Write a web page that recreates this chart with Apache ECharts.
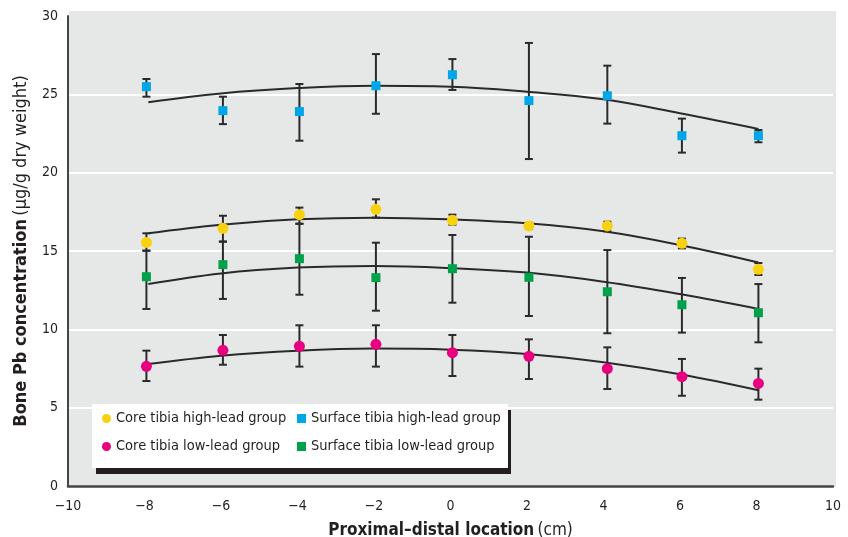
<!DOCTYPE html>
<html>
<head>
<meta charset="utf-8">
<script src="https://cdn.jsdelivr.net/npm/echarts@6/dist/echarts.min.js"></script>
<style>html,body{margin:0;padding:0;background:#fff}#c{width:848px;height:537px}</style>
</head>
<body>
<div id="c"></div>
<script>
var xPos = [-7.95, -5.95, -3.95, -1.95, 0.05, 2.05, 4.1, 6.05, 8.05];
var fitX = [-7.9, -6, -4, -2, 0, 2, 4, 6, 8.05];

var coreHigh   = [15.55, 16.45, 17.32, 17.66, 16.96, 16.6, 16.6, 15.49, 13.83];
var coreHighLo = [15.02, 15.6, 16.74, 17.13, 16.68, 16.4, 16.26, 15.17, 13.47];
var coreHighHi = [16.13, 17.25, 17.77, 18.3, 17.32, 16.8, 16.87, 15.79, 14.23];
var coreHighFit = [16.13, 16.68, 17.02, 17.13, 17.02, 16.77, 16.26, 15.38, 14.26];

var surfHigh   = [25.49, 23.96, 23.9, 25.55, 26.25, 24.6, 24.91, 22.36, 22.36];
var surfHighLo = [24.85, 23.1, 22.04, 23.76, 25.28, 20.87, 23.13, 21.28, 21.94];
var surfHighHi = [25.98, 24.85, 25.66, 27.57, 27.25, 28.28, 26.83, 23.45, 22.72];
var surfHighFit = [24.5, 25.06, 25.4, 25.55, 25.49, 25.17, 24.68, 23.79, 22.79];

var coreLow   = [7.64, 8.66, 8.92, 9.04, 8.51, 8.28, 7.49, 6.98, 6.55];
var coreLowLo = [6.7, 7.74, 7.62, 7.62, 7.02, 6.83, 6.19, 5.76, 5.51];
var coreLowHi = [8.64, 9.64, 10.26, 10.26, 9.64, 9.36, 8.85, 8.11, 7.49];
var coreLowFit = [7.79, 8.32, 8.64, 8.77, 8.7, 8.43, 7.9, 7.13, 6.11];

var surfLow   = [13.36, 14.13, 14.51, 13.3, 13.87, 13.32, 12.4, 11.57, 11.06];
var surfLowLo = [11.3, 11.94, 12.21, 11.19, 11.7, 10.85, 9.75, 9.79, 9.17];
var surfLowHi = [15.02, 15.6, 16.74, 15.53, 16.02, 15.91, 15.06, 13.28, 12.89];
var surfLowFit = [12.89, 13.57, 13.94, 14.04, 13.91, 13.62, 13.04, 12.25, 11.3];

var names = ['Core tibia high-lead group', 'Surface tibia high-lead group',
             'Core tibia low-lead group', 'Surface tibia low-lead group'];
var colors = ['#f8d20f', '#00a7e7', '#e8007f', '#00a14b'];
var symbols = ['circle', 'rect', 'circle', 'rect'];
var vals = [coreHigh, surfHigh, coreLow, surfLow];
var los = [coreHighLo, surfHighLo, coreLowLo, surfLowLo];
var his = [coreHighHi, surfHighHi, coreLowHi, surfLowHi];
var fits = [coreHighFit, surfHighFit, coreLowFit, surfLowFit];

var FONT = "'DejaVu Sans Condensed','Liberation Sans Narrow','Liberation Sans',sans-serif";
var INK = '#231f20';

function pairs(xs, ys) { return xs.map(function (x, i) { return [x, ys[i]]; }); }

var series = [];
fits.forEach(function (f) {
  series.push({
    type: 'line', data: pairs(fitX, f), smooth: 0.4, showSymbol: false, silent: true,
    lineStyle: { color: '#2a2a2a', width: 2 }, z: 2, legendHoverLink: false
  });
});
vals.forEach(function (v, k) {
  series.push({
    type: 'custom', z: 3, silent: true,
    data: xPos.map(function (x, i) { return [x, los[k][i], his[k][i]]; }),
    renderItem: function (params, api) {
      var lo = api.coord([api.value(0), api.value(1)]);
      var hi = api.coord([api.value(0), api.value(2)]);
      var w = 4;
      var st = { stroke: '#2a2a2a', lineWidth: 2 };
      return { type: 'group', children: [
        { type: 'line', shape: { x1: lo[0], y1: lo[1], x2: hi[0], y2: hi[1] }, style: st },
        { type: 'line', shape: { x1: lo[0] - w, y1: lo[1], x2: lo[0] + w, y2: lo[1] }, style: st },
        { type: 'line', shape: { x1: hi[0] - w, y1: hi[1], x2: hi[0] + w, y2: hi[1] }, style: st }
      ]};
    }
  });
});
vals.forEach(function (v, k) {
  series.push({
    name: names[k], type: 'scatter', data: pairs(xPos, v), z: 4,
    symbol: symbols[k], symbolSize: symbols[k] === 'circle' ? 11 : 9,
    itemStyle: { color: colors[k], opacity: 1 }
  });
});

var legendCommon = {
  orient: 'vertical', itemWidth: 9, itemHeight: 9, itemGap: 13, z: 10,
  textStyle: { fontFamily: FONT, fontSize: 14.5, color: INK },
  selectedMode: false
};

var option = {
  animation: false,
  grid: { left: 68, right: 15, top: 16, bottom: 51, containLabel: false, outerBoundsMode: 'none' },
  graphic: [
    { type: 'rect', z: -10, shape: { x: 69, y: 11, width: 767, height: 475 }, style: { fill: '#e6e8e7' } },
    { type: 'rect', z: 8, shape: { x: 96, y: 410, width: 415, height: 64 }, style: { fill: '#231f20' } },
    { type: 'rect', z: 9, shape: { x: 92, y: 404, width: 416, height: 64 }, style: { fill: '#ffffff' } }
  ],
  legend: [
    Object.assign({ left: 97, top: 406, data: [
      { name: names[0], icon: 'circle' }, { name: names[2], icon: 'circle' }] }, legendCommon),
    Object.assign({ left: 292, top: 406, data: [
      { name: names[1], icon: 'rect' }, { name: names[3], icon: 'rect' }] }, legendCommon)
  ],
  xAxis: {
    type: 'value', min: -10, max: 10, interval: 2,
    axisLine: { show: true, onZero: false, lineStyle: { color: '#444', width: 2.5 } },
    axisTick: { show: false },
    splitLine: { show: false },
    axisLabel: { fontFamily: FONT, fontSize: 14, color: INK, margin: 13,
      formatter: function (v) { return String(v).replace('-', '\u2212'); } },
    name: '{b|Proximal\u2013distal location} {n|(cm)}',
    nameLocation: 'middle', nameGap: 36,
    nameTextStyle: { rich: {
      b: { fontFamily: FONT, fontSize: 17, fontWeight: 'bold', color: INK },
      n: { fontFamily: FONT, fontSize: 17, color: INK } } }
  },
  yAxis: {
    type: 'value', min: 0, max: 30, interval: 5,
    axisLine: { show: true, onZero: false, lineStyle: { color: '#444', width: 2 } },
    axisTick: { show: false },
    splitLine: { show: true, showMinLine: false, showMaxLine: false, lineStyle: { color: '#ffffff', width: 2 } },
    axisLabel: { fontFamily: FONT, fontSize: 14, color: INK, margin: 10 },
    name: '{b|Bone Pb concentration} {n|(\u00b5g/g dry weight)}',
    nameLocation: 'middle', nameGap: 38,
    nameTextStyle: { rich: {
      b: { fontFamily: FONT, fontSize: 18, fontWeight: 'bold', color: INK },
      n: { fontFamily: FONT, fontSize: 18, color: INK } } }
  },
  series: series
};
var chart = echarts.init(document.getElementById('c'), null, { renderer: 'canvas' });
chart.setOption(option);
</script>
</body>
</html>
